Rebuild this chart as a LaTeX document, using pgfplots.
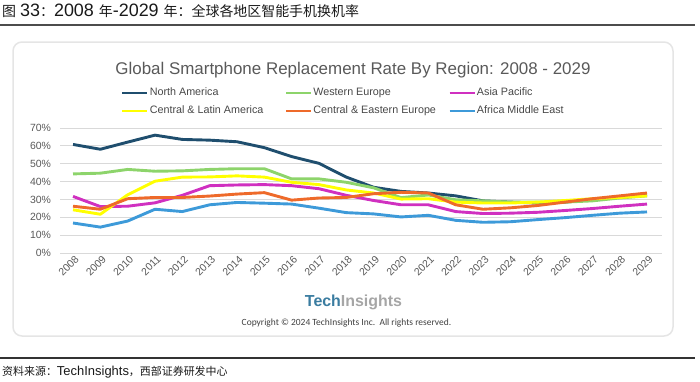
\documentclass[border=0pt]{standalone}
\usepackage{pgfplots}
\usepackage{pgfplotstable}
\pgfplotsset{compat=1.18}
\usepackage{fontspec}
\setmainfont{Liberation Sans}
\newfontfamily\lat{Liberation Sans}
\newfontfamily\cjk{Noto Sans CJK SC}
\newfontfamily\carlito{Carlito}
\definecolor{cNA}{HTML}{1F4E6E}
\definecolor{cWE}{HTML}{8DD46B}
\definecolor{cAP}{HTML}{D030C0}
\definecolor{cCLA}{HTML}{FFFF00}
\definecolor{cCEE}{HTML}{EE6A2A}
\definecolor{cAME}{HTML}{3D9AD9}
\definecolor{logoblue}{HTML}{3A7CA0}
\definecolor{tickgray}{HTML}{595959}

\pgfplotstableread{
year NA WE AP CLA CEE AME
2008 60.8 44.3 31.7 24.2 26.2 16.8
2009 58.1 44.7 26.0 21.7 24.5 14.5
2010 62.1 46.8 26.2 32.6 30.4 17.9
2011 66.0 45.8 28.1 40.2 31.1 24.5
2012 63.6 46.0 32.3 42.5 31.1 23.2
2013 63.2 46.8 37.7 42.6 31.9 27.0
2014 62.3 47.2 38.1 43.2 33.0 28.3
2015 59.0 47.2 38.3 42.5 33.8 27.9
2016 54.0 41.5 37.7 39.6 29.6 27.4
2017 50.2 41.5 36.0 38.3 30.8 25.1
2018 42.5 39.6 32.3 35.3 31.1 22.6
2019 36.8 36.5 29.4 33.6 33.2 21.9
2020 34.5 31.0 27.0 30.2 34.0 20.2
2021 33.6 32.5 27.0 30.4 33.6 21.1
2022 32.0 29.8 23.2 28.5 27.0 18.3
2023 29.2 29.2 22.1 28.0 24.5 17.2
2024 28.5 28.5 22.3 28.0 25.3 17.5
2025 28.0 28.5 22.8 28.5 26.6 18.7
2026 28.5 28.5 23.8 29.4 28.5 19.8
2027 30.0 29.2 24.9 30.4 30.4 21.1
2028 31.3 30.8 26.2 31.1 32.0 22.3
2029 32.6 32.0 27.4 32.0 33.6 23.0
}\datatable

\begin{document}
\begin{tikzpicture}[x=1bp,y=1bp]
\useasboundingbox (0,0) rectangle (700,381);
% header
\node[anchor=west, inner sep=0pt, color=black!90] at (2,370)
  {{\cjk\fontsize{14}{16}\selectfont 图}\hspace{4bp}{\lat\fontsize{18}{20}\selectfont 33}{\cjk\fontsize{14}{16}\selectfont ：}{\lat\fontsize{18}{20}\selectfont 2008 }{\cjk\fontsize{14}{16}\selectfont 年}{\lat\fontsize{18}{20}\selectfont -2029 }{\cjk\fontsize{14}{16}\selectfont 年：全球各地区智能手机换机率}};
\draw[line width=1.2bp, color=black!70] (0,356) -- (695,356);
% frame
\draw[rounded corners=9bp, line width=1.5bp, draw=black!10] (13,45) rectangle (673,339);
% title
\node[font=\fontsize{17}{20}\selectfont, color=tickgray] at (353,311) {Global Smartphone Replacement Rate By Region: 2008 - 2029};
\begin{axis}[
  at={(60bp,128bp)}, anchor=south west,
  scale only axis, width=602bp, height=125bp,
  xmin=2007.524, xmax=2029.549, ymin=0, ymax=70,
  axis line style={draw=none},
  major tick length=0pt,
  ymajorgrids, grid style={color=black!15, line width=0.9bp},
  ytick={0,10,...,70},
  xtick={2008,2009,...,2029},
  /pgf/number format/assume math mode=true,
  /pgf/number format/1000 sep={},
  yticklabel={\pgfmathprintnumber{\tick}\%},
  yticklabel style={font=\fontsize{10.5}{12}\selectfont, color=tickgray, xshift=-5.5bp},
  xticklabel style={font=\fontsize{10.5}{12}\selectfont, color=tickgray, rotate=45, anchor=east, xshift=3bp, yshift=-6bp},
  legend columns=3,
  legend cell align=left,
  legend style={at={(0.1013,1.332)}, anchor=north west, draw=none, fill=none, inner sep=0pt,
    font=\fontsize{10.8}{12}\selectfont, text=tickgray!80!black,
    nodes={inner sep=1bp, text height=8bp, text depth=2.5bp},
    row sep=5.5bp, column sep=0pt},
  legend image code/.code={\draw[#1, line width=2.6bp] (0bp,0bp) -- (25bp,0bp);},
  every axis plot/.append style={line width=2.9bp, line join=round, no marks},
]
\addplot[color=cNA] table[x=year, y=NA] {\datatable};
\addlegendentry{\makebox[134bp][l]{North America}}
\addplot[color=cWE] table[x=year, y=WE] {\datatable};
\addlegendentry{\makebox[134bp][l]{Western Europe}}
\addplot[color=cAP] table[x=year, y=AP] {\datatable};
\addlegendentry{\makebox[120bp][l]{Asia Pacific}}
\addplot[color=cCLA] table[x=year, y=CLA] {\datatable};
\addlegendentry{\makebox[134bp][l]{Central \& Latin America}}
\addplot[color=cCEE] table[x=year, y=CEE] {\datatable};
\addlegendentry{\makebox[134bp][l]{Central \& Eastern Europe}}
\addplot[color=cAME] table[x=year, y=AME] {\datatable};
\addlegendentry{\makebox[120bp][l]{Africa Middle East}}
\end{axis}
% logo and copyright
\node[font=\fontsize{16}{18}\selectfont\bfseries] at (353.5,79) {\textcolor{logoblue}{Tech}\textcolor{black!35}{Insights}};
\node[font=\carlito\fontsize{9.5}{11}\selectfont, color=black!75] at (346.5,58) {Copyright © 2024 TechInsights Inc.\ \ All rights reserved.};
% source
\draw[line width=1.2bp, color=black!80] (0,23) -- (695,23);
\node[anchor=west, inner sep=0pt, color=black!90] at (2,9)
  {{\cjk\fontsize{11}{13}\selectfont 资料来源：}{\lat\fontsize{13}{15}\selectfont TechInsights}{\cjk\fontsize{11}{13}\selectfont ，西部证券研发中心}};
\end{tikzpicture}
\end{document}
